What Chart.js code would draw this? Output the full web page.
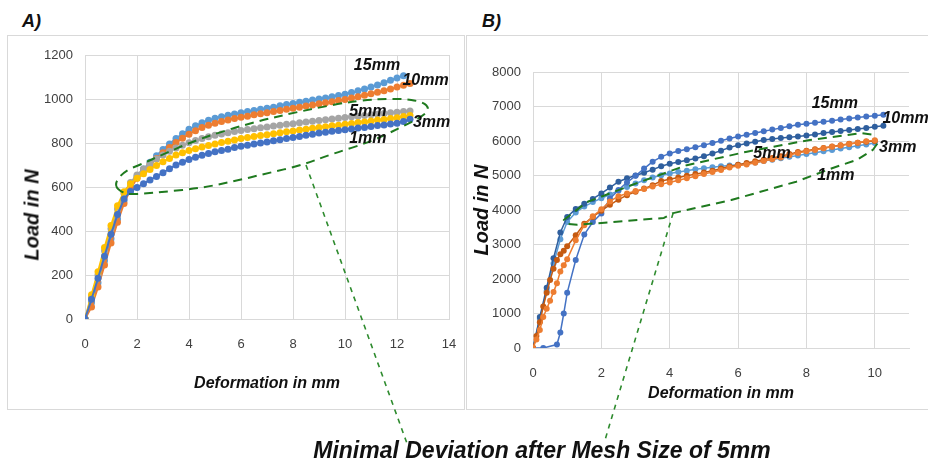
<!DOCTYPE html>
<html>
<head>
<meta charset="utf-8">
<script src="https://cdn.jsdelivr.net/npm/chart.js@4.4.0/dist/chart.umd.min.js"></script>
<style>
  body { margin: 0; width: 928px; height: 465px; background: #fff; position: relative; overflow: hidden; }
  .box { position: absolute; border: 1px solid #d9d9d9; box-sizing: border-box; background: #fff; }
  canvas { position: absolute; top: 0; }
  .panel { position: absolute; top: 11px; font: italic bold 18px 'Liberation Sans', Arial, sans-serif; color: #111; }
  .ytitle { position: absolute; font: italic bold 20px 'Liberation Sans', Arial, sans-serif; color: #111;
            transform: translate(-50%, -50%) rotate(-90deg); white-space: nowrap; }
  .caption { position: absolute; top: 437px; left: 542px; transform: translateX(-50%); white-space: nowrap;
             font: italic bold 23px 'Liberation Sans', Arial, sans-serif; color: #111; }
</style>
</head>
<body>
<div class="box" style="left:7px;top:35px;width:458px;height:375px"></div>
<div class="box" style="left:466px;top:35px;width:463px;height:375px"></div>
<div class="panel" style="left:22px">A)</div>
<div class="panel" style="left:482px">B)</div>
<canvas id="chart-a" width="464" height="465" style="left:0"></canvas>
<canvas id="chart-b" width="464" height="465" style="left:464px"></canvas>
<div class="ytitle" style="left:32px;top:215px">Load in N</div>
<div class="caption">Minimal Deviation after Mesh Size of 5mm</div>
<script>
// panel A: load (N) vs deformation (mm)
const xA = [0, 0.25, 0.5, 0.75, 1, 1.25, 1.5, 1.75, 2, 2.25, 2.5, 2.75, 3, 3.25, 3.5, 3.75, 4, 4.25, 4.5, 4.75,
  5, 5.25, 5.5, 5.75, 6, 6.25, 6.5, 6.75, 7, 7.25, 7.5, 7.75, 8, 8.25, 8.5, 8.75, 9, 9.25, 9.5, 9.75,
  10, 10.25, 10.5, 10.75, 11, 11.25, 11.5, 11.75, 12, 12.25, 12.5];
const a1mm = [0, 90, 185, 285, 385, 475, 545, 580, 598, 615, 632, 648, 665, 683, 700, 713, 725, 735, 744, 752,
  760, 766, 772, 779, 785, 790, 795, 800, 805, 810, 815, 820, 825, 830, 835, 840, 845, 849, 853, 857,
  860, 864, 868, 871, 875, 879, 882, 886, 890, 898, 908];
const a3mm = [0, 110, 215, 325, 425, 515, 578, 615, 640, 660, 680, 698, 715, 730, 745, 756, 766, 774, 782, 789,
  796, 802, 808, 814, 820, 825, 829, 834, 838, 842, 847, 851, 855, 859, 863, 867, 870, 874, 878, 881,
  885, 889, 893, 896, 900, 904, 907, 911, 915, 920, 925];
const a5mm = [0, 100, 200, 310, 410, 500, 570, 620, 655, 682, 706, 727, 745, 762, 777, 790, 801, 811, 820, 828,
  835, 841, 847, 852, 857, 861, 865, 869, 873, 877, 881, 885, 888, 892, 895, 899, 902, 906, 909, 913,
  916, 919, 922, 925, 928, 931, 934, 937, 940, 943, 946];
const a10mm = [0, 55, 145, 245, 345, 440, 525, 592, 640, 672, 702, 730, 756, 780, 802, 822, 840, 856, 870, 881,
  890, 898, 905, 911, 917, 922, 928, 933, 938, 943, 948, 953, 958, 963, 968, 973, 978, 983, 988, 993,
  998, 1004, 1010, 1017, 1024, 1031, 1038, 1046, 1054, 1062, 1070];
const a15mm = [0, 75, 165, 265, 365, 455, 538, 600, 648, 682, 712, 742, 770, 796, 820, 842, 862, 878, 892, 903,
  912, 919, 926, 932, 938, 943, 948, 953, 958, 963, 969, 975, 980, 985, 990, 995, 1000, 1005, 1010, 1016,
  1022, 1029, 1037, 1045, 1054, 1064, 1074, 1085, 1096, 1106, null];

// panel B
const xB = [0, 0.1, 0.2, 0.3, 0.4, 0.5, 0.6, 0.7, 0.8, 0.9, 1, 1.25, 1.5, 1.75, 2, 2.25, 2.5, 2.75, 3, 3.25,
  3.5, 3.75, 4, 4.25, 4.5, 4.75, 5, 5.25, 5.5, 5.75, 6, 6.25, 6.5, 6.75, 7, 7.25, 7.5, 7.75, 8, 8.25,
  8.5, 8.75, 9, 9.25, 9.5, 9.75, 10, 10.25];
const b15mm = [0, null, null, 0, null, null, null, 100, 450, 1000, 1600, 2550, 3290, 3650, 3900, 4330, 4580, 4800, 4990, 5200,
  5400, 5540, 5640, 5710, 5760, 5820, 5880, 5940, 6010, 6070, 6130, 6180, 6230, 6280, 6330, 6380, 6430, 6470, 6500, 6530,
  6560, 6590, 6620, 6650, 6680, 6710, 6735, 6760];
const b10mm = [0, null, 900, null, 1750, null, 2600, null, 3350, null, 3800, 4030, 4180, 4320, 4480, 4650, 4820, 4920, 5000, 5080,
  5170, 5270, 5340, 5390, 5440, 5490, 5560, 5640, 5720, 5810, 5880, 5930, 5980, 6030, 6060, 6090, 6110, 6130, 6160, 6190,
  6230, 6260, 6290, 6320, 6350, 6380, 6410, 6440];
const b5mm = [0, null, 850, null, 1650, null, 2450, null, 3150, null, 3650, 3930, 4100, 4230, 4340, 4450, 4560, 4670, 4770, 4860,
  4940, 5010, 5060, 5100, 5140, 5180, 5210, 5240, 5270, 5290, 5310, 5340, 5380, 5420, 5460, 5500, 5540, 5580, 5620, 5660,
  5700, 5740, 5780, 5820, 5860, 5900, 5940, null];
const b3mm = [0, 250, 520, 900, 1140, 1370, 1620, 1880, 2220, 2400, 2570, 3120, 3560, 3820, 4020, 4250, 4400, 4480, 4550, 4610,
  4680, 4750, 4800, 4860, 4920, 4980, 5040, 5100, 5160, 5230, 5280, 5320, 5370, 5420, 5470, 5520, 5590, 5650, 5700, 5740,
  5790, 5830, 5870, 5910, 5950, 5990, 6020, null];
const b1mm = [0, 350, 750, 1200, 1600, 1970, 2300, 2550, 2720, 2820, 2950, 3270, 3600, 3800, 3980, 4150, 4300, 4430, 4530, 4620,
  4720, 4840, 4890, 4940, 4990, 5040, 5090, 5140, 5200, 5260, 5310, 5360, 5410, 5460, 5510, 5560, 5620, 5680, 5720, 5760,
  5800, 5840, 5880, 5920, 5950, 5980, 6000, null];

// annotations (data coordinates)
const zoneA = [[1.1, 610], [1.5, 672], [2.2, 705], [2.8, 738], [4.4, 820], [6.4, 892], [8.3, 945], [10.5, 995],
  [12.1, 1003], [13.0, 988], [13.25, 955], [13.0, 922], [12.1, 868], [11.0, 806], [9.5, 750], [8.3, 698],
  [7.0, 662], [5.7, 625], [4.4, 594], [3.1, 579], [1.9, 566], [1.45, 572]];
const zoneB = [[9.9, 6190], [9.6, 6230], [8.1, 6030], [6.26, 5690], [4.5, 5300], [3.03, 4775], [1.58, 4230],
  [0.9, 3710], [1.0, 3600], [1.29, 3570], [3.83, 3770], [4.1, 3910], [5.8, 4290], [7.7, 4820], [8.77, 5218],
  [9.47, 5450], [9.94, 5740], [10.15, 6030]];
const linkA = [[8.5, 700], [12.38, -564]];
const linkB = [[4.1, 3910], [2.08, -2754]];
const labelsA = [['15mm', 11.23, 1150], ['10mm', 13.1, 1082], ['5mm', 10.88, 941], ['3mm', 13.33, 895], ['1mm', 10.88, 818]];
const labelsB = [['15mm', 8.83, 7074], ['10mm', 10.9, 6639], ['5mm', 6.99, 5624], ['3mm', 10.67, 5798], ['1mm', 8.86, 4986]];

const GRID = '#d9d9d9';
const GREEN = '#1f7a1f';
const TICK_COLOR = '#404040';
const TICK_FONT = { family: "'Liberation Sans', Arial, sans-serif", size: 13 };
const TITLE_FONT = { family: "'Liberation Sans', Arial, sans-serif", size: 16, style: 'italic', weight: 'bold' };

function points(xs, ys) {
  return xs.map((x, i) => ({ x: x, y: ys[i] }));
}

function series(label, xs, ys, color, radius, width) {
  return {
    label: label,
    data: points(xs, ys),
    borderColor: color,
    backgroundColor: color,
    pointBackgroundColor: color,
    pointBorderWidth: 0,
    pointRadius: radius,
    borderWidth: width,
    spanGaps: true,
  };
}

function notes(zone, smooth, link, labels) {
  return {
    id: 'notes',
    afterDatasetsDraw(chart) {
      const { ctx, scales: { x, y } } = chart;
      const px = (p) => [x.getPixelForValue(p[0]), y.getPixelForValue(p[1])];
      ctx.save();
      ctx.strokeStyle = GREEN;
      ctx.lineWidth = 2;
      ctx.setLineDash([9, 6]);
      ctx.lineJoin = 'round';
      ctx.beginPath();
      const pts = zone.map(px);
      if (smooth) {
        const n = pts.length;
        const mid = (a, b) => [(a[0] + b[0]) / 2, (a[1] + b[1]) / 2];
        const start = mid(pts[n - 1], pts[0]);
        ctx.moveTo(start[0], start[1]);
        for (let i = 0; i < n; i++) {
          const m = mid(pts[i], pts[(i + 1) % n]);
          ctx.quadraticCurveTo(pts[i][0], pts[i][1], m[0], m[1]);
        }
        ctx.closePath();
      } else {
        pts.forEach((p, i) => (i ? ctx.lineTo(p[0], p[1]) : ctx.moveTo(p[0], p[1])));
      }
      ctx.stroke();

      ctx.lineWidth = 1.6;
      ctx.setLineDash([5, 5]);
      ctx.strokeStyle = '#2e8b2e';
      const l0 = px(link[0]), l1 = px(link[1]);
      ctx.beginPath();
      ctx.moveTo(l0[0], l0[1]);
      ctx.lineTo(l1[0], l1[1]);
      ctx.stroke();

      ctx.setLineDash([]);
      ctx.fillStyle = '#111';
      ctx.font = "italic bold 16px 'Liberation Sans', Arial, sans-serif";
      ctx.textAlign = 'center';
      ctx.textBaseline = 'middle';
      labels.forEach(([t, vx, vy]) => ctx.fillText(t, x.getPixelForValue(vx), y.getPixelForValue(vy)));
      ctx.restore();
    },
  };
}

function axes(xMax, xHide, yMax, yStep, yWidth, xHeight, yTitle) {
  return {
    x: {
      type: 'linear', min: 0, max: xMax,
      ticks: { stepSize: 2, padding: 4, color: TICK_COLOR, font: TICK_FONT, callback: (v) => String(v) },
      grid: { color: GRID, drawTicks: true, tickLength: 14, tickColor: 'rgba(0,0,0,0)' },
      border: { color: GRID },
      title: { display: true, text: 'Deformation in mm', color: '#111', font: TITLE_FONT, padding: { top: 0, bottom: 2 } },
      afterBuildTicks: (s) => { s.ticks = s.ticks.filter((t) => t.value <= xHide); },
      afterFit: (s) => { s.height = xHeight; },
    },
    y: {
      min: 0, max: yMax,
      ticks: { stepSize: yStep, padding: 12, color: TICK_COLOR, font: TICK_FONT, callback: (v) => String(v) },
      grid: { color: GRID, drawTicks: false },
      border: { color: GRID },
      title: {
        display: !!yTitle, text: yTitle, color: '#111',
        font: { family: "'Liberation Sans', Arial, sans-serif", size: 20, style: 'italic', weight: 'bold' },
        padding: { top: 0, bottom: 0 },
      },
      afterFit: (s) => { s.width = yWidth; },
    },
  };
}

const baseOptions = {
  responsive: false,
  animation: false,
  plugins: { legend: { display: false }, tooltip: { enabled: false } },
};

new Chart(document.getElementById('chart-a'), {
  type: 'line',
  data: {
    datasets: [
      series('1mm', xA, a1mm, '#4472c4', 3.5, 2),
      series('3mm', xA, a3mm, '#ffc000', 3.5, 2),
      series('5mm', xA, a5mm, '#a5a5a5', 3.5, 2),
      series('10mm', xA, a10mm, '#ed7d31', 3.5, 2),
      series('15mm', xA, a15mm, '#5b9bd5', 3.5, 2),
    ],
  },
  options: Object.assign({}, baseOptions, {
    layout: { padding: { left: 20, top: 55, right: 15, bottom: 70 } },
    scales: axes(14, 14, 1200, 200, 65, 76, ''),
  }),
  plugins: [notes(zoneA, true, linkA, labelsA)],
});

new Chart(document.getElementById('chart-b'), {
  type: 'line',
  data: {
    datasets: [
      series('3mm', xB, b3mm, '#ed7d31', 3, 1.5),
      series('1mm', xB, b1mm, '#c55a11', 3, 1.5),
      series('15mm', xB, b15mm, '#4472c4', 3, 1.5),
      series('10mm', xB, b10mm, '#2f5f9e', 3, 1.5),
      series('5mm', xB, b5mm, '#5b9bd5', 3, 1.5),
    ],
  },
  options: Object.assign({}, baseOptions, {
    layout: { padding: { left: 6, top: 72, right: 19, bottom: 60 } },
    scales: axes(11, 10, 8000, 1000, 63, 57, 'Load in N'),
  }),
  plugins: [notes(zoneB, false, linkB, labelsB)],
});
</script>
</body>
</html>
